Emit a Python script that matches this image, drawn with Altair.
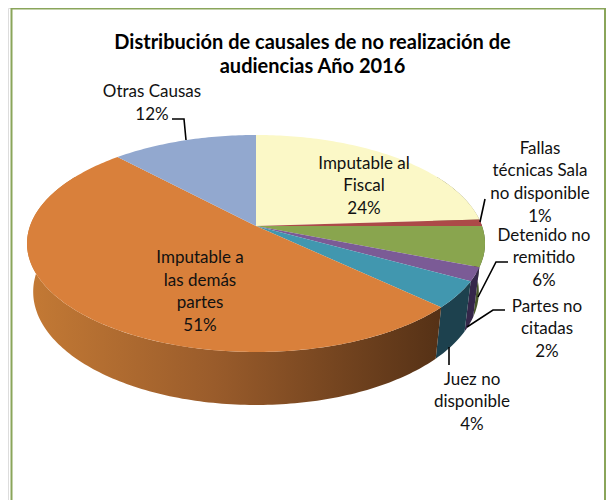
import math
import altair as alt
import pandas as pd

# ---- chart values
names = ["Imputable al Fiscal", "Fallas técnicas Sala no disponible", "Detenido no remitido",
         "Partes no citadas", "Juez no disponible", "Imputable a las demás partes", "Otras Causas"]
shares = [24, 1, 6, 2, 4, 51, 12]
top_colors = ["#FBF8C7", "#AC4A48", "#89A54E", "#7B5B96", "#4197AF", "#D9803B", "#92A8CF"]
wall_colors = ["#8A8860", "#5A2625", "#48582A", "#35274A", "#1D414E", None, "#4A5870"]
label_lines = [
    ["Imputable al", "Fiscal", "24%"],
    ["Fallas", "técnicas Sala", "no disponible", "1%"],
    ["Detenido no", "remitido", "6%"],
    ["Partes no", "citadas", "2%"],
    ["Juez no", "disponible", "4%"],
    ["Imputable a", "las demás", "partes", "51%"],
    ["Otras Causas", "12%"],
]
label_centers = [(364, 163.5), (540, 148.5), (544, 235.5), (547, 306.5), (472, 379.5), (200, 258), (152, 92)]
leaders = [
    [(172, 119), (184, 119), (186, 140)],
    [(485, 199), (480, 222)],
    [(508, 262), (496, 262), (478, 297)],
    [(505, 310), (493, 310), (467, 327)],
    [(449, 365), (449, 347)],
]
title_lines = ["Distribución de causales de no realización de", "audiencias Año 2016"]

# ---- perspective projection of the disc
CX, CY, A, B, P = 256, 226, 226, 105.7, 0.161
Q, D = 0.027, 49.3


def top(deg):
    u, v = math.sin(math.radians(deg)), math.cos(math.radians(deg))
    w = 1 + P * v
    return CX + A * u / w, CY - B * v / w


def bottom(deg):
    u, v = math.sin(math.radians(deg)), math.cos(math.radians(deg))
    w = 1 + P * v + Q
    return CX + A * u / w, CY + (D - B * v) / w


def arc(a, b):
    n = max(2, int(abs(b - a)) + 1)
    return [a + (b - a) * i / (n - 1) for i in range(n)]


X = alt.X("x:Q", scale=alt.Scale(domain=[8, 606]), axis=None)
Y = alt.Y("y:Q", scale=alt.Scale(domain=[500, 8]), axis=None)


def shape(points, fill):
    df = pd.DataFrame([{"x": x, "y": y, "i": i} for i, (x, y) in enumerate(points)])
    return alt.Chart(df).mark_line(fill=fill, strokeOpacity=0, interpolate="linear").encode(
        x=X, y=Y, order=alt.Order("i:Q"))


orange_wall = alt.Gradient(gradient="linear", x1=0, y1=0, x2=1, y2=0, stops=[
    alt.GradientStop(offset=0, color="#C47A35"),
    alt.GradientStop(offset=0.45, color="#9A5C2B"),
    alt.GradientStop(offset=1, color="#553116"),
])

layers = []
edges = [0]
for s in shares:
    edges.append(edges[-1] + s * 3.6)

# side walls, visible part only
for k in range(len(shares)):
    a, b = max(edges[k], 60), min(edges[k + 1], 300)
    if b <= a:
        continue
    ang = arc(a, b)
    pts = [top(t) for t in ang] + [bottom(t) for t in reversed(ang)]
    layers.append(shape(pts, wall_colors[k] or orange_wall))

# top faces
for k in range(len(shares)):
    pts = [(CX, CY)] + [top(t) for t in arc(edges[k], edges[k + 1])]
    layers.append(shape(pts, top_colors[k]))

# leader lines
rows = []
for g, line in enumerate(leaders):
    for i, (x, y) in enumerate(line):
        rows.append({"x": x, "y": y, "g": g, "i": i})
layers.append(alt.Chart(pd.DataFrame(rows)).mark_line(color="#000000", strokeWidth=1.6).encode(
    x=X, y=Y, detail="g:N", order=alt.Order("i:Q")))

# labels
rows = []
for lines, (x, y) in zip(label_lines, label_centers):
    for j, t in enumerate(lines):
        rows.append({"x": x, "y": y + j * 22.7, "t": t})
layers.append(alt.Chart(pd.DataFrame(rows)).mark_text(
    font="Lato", fontSize=17, color="#111111", align="center", baseline="middle").encode(
    x=X, y=Y, text="t:N"))

# frame
frame = pd.DataFrame([{"x": 11.5, "y": 500, "i": 0}, {"x": 11.5, "y": 8.5, "i": 1},
                      {"x": 605, "y": 8.5, "i": 2}, {"x": 605, "y": 500, "i": 3}])
layers.append(alt.Chart(frame).mark_line(color="#8AA55A", strokeWidth=2).encode(
    x=X, y=Y, order=alt.Order("i:Q")))

chart = alt.layer(*layers).properties(
    width=598, height=492, padding=0, autosize="none",
    title=alt.TitleParams(text=title_lines, font="Lato", fontSize=20, fontWeight="bold",
                          color="#000000", anchor="middle", frame="group", dx=5.5, dy=76,
                          lineHeight=23.5, baseline="top"),
).configure_view(stroke=None).configure(background="#FFFFFF")

chart.save("out.html", embed_options={"renderer": "svg", "actions": False})
